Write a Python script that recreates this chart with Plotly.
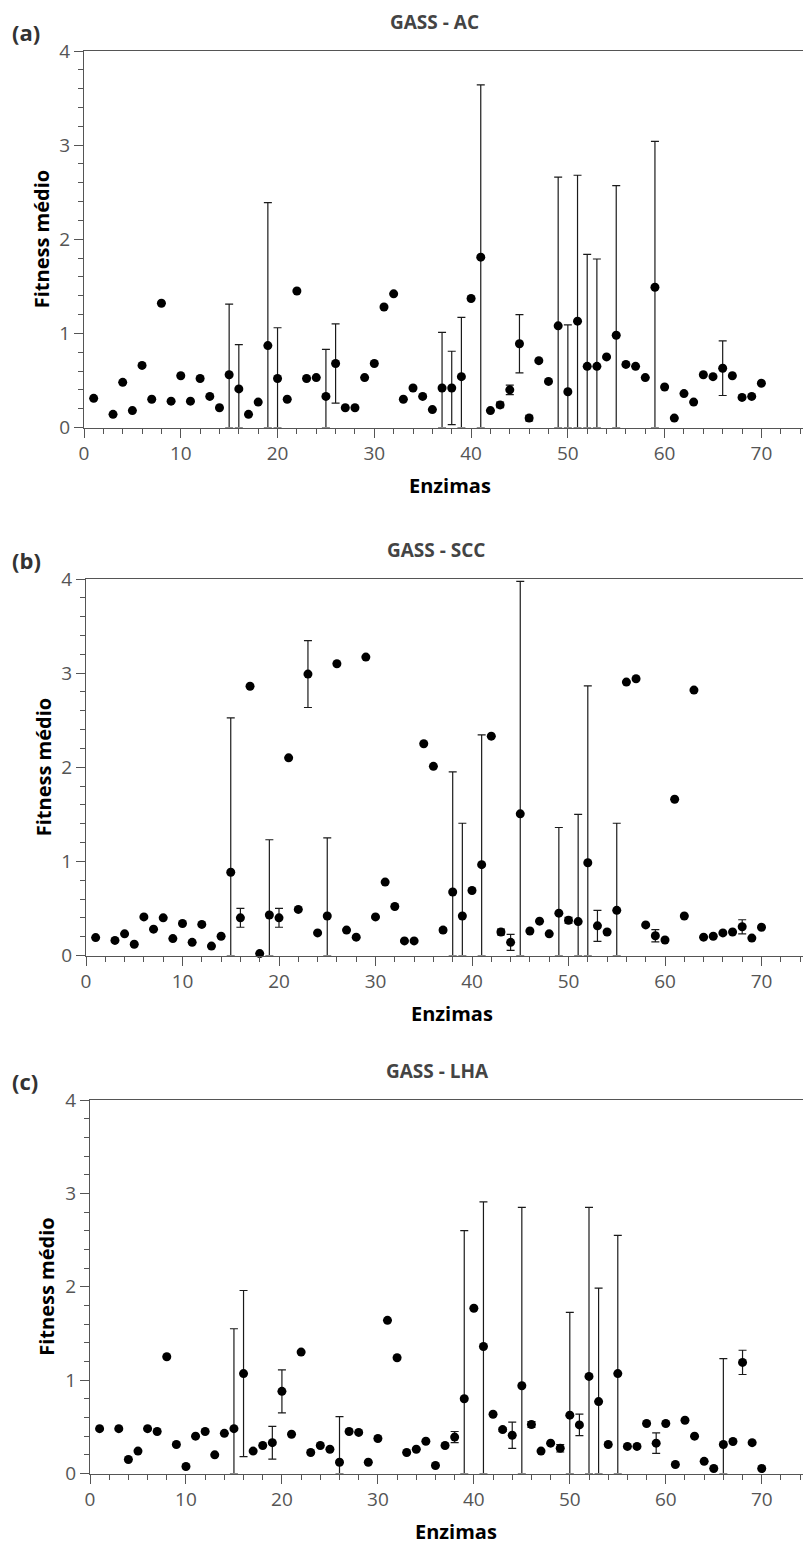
import numpy as np
import plotly.graph_objects as go

# ---------------- data ----------------
enzimas = [1, 3, 4, 5, 6, 7, 8, 9, 10,
           11, 12, 13, 14, 15, 16, 17, 18, 19, 20,
           21, 22, 23, 24, 25, 26, 27, 28, 29, 30,
           31, 32, 33, 34, 35, 36, 37, 38, 39, 40,
           41, 42, 43, 44, 45, 46, 47, 48, 49, 50,
           51, 52, 53, 54, 55, 56, 57, 58, 59, 60,
           61, 62, 63, 64, 65, 66, 67, 68, 69, 70]

ac_mean = [0.31, 0.14, 0.48, 0.18, 0.66, 0.30, 1.32, 0.28, 0.55,
           0.28, 0.52, 0.33, 0.21, 0.56, 0.41, 0.14, 0.27, 0.87, 0.52,
           0.30, 1.45, 0.52, 0.53, 0.33, 0.68, 0.21, 0.21, 0.53, 0.68,
           1.28, 1.42, 0.30, 0.42, 0.33, 0.19, 0.42, 0.42, 0.54, 1.37,
           1.81, 0.18, 0.24, 0.40, 0.89, 0.10, 0.71, 0.49, 1.08, 0.38,
           1.13, 0.65, 0.65, 0.75, 0.98, 0.67, 0.65, 0.53, 1.49, 0.43,
           0.10, 0.36, 0.27, 0.56, 0.54, 0.63, 0.55, 0.32, 0.33, 0.47]
ac_err = [0, 0, 0, 0, 0, 0, 0, 0, 0,
          0, 0, 0, 0, 0.75, 0.47, 0, 0, 1.52, 0.54,
          0, 0, 0, 0, 0.50, 0.42, 0, 0, 0, 0,
          0, 0, 0, 0, 0, 0, 0.59, 0.39, 0.63, 0,
          1.83, 0, 0.03, 0.05, 0.31, 0.03, 0, 0, 1.58, 0.71,
          1.55, 1.19, 1.14, 0, 1.59, 0, 0, 0, 1.55, 0,
          0, 0, 0, 0, 0, 0.29, 0, 0, 0, 0]

scc_mean = [0.19, 0.16, 0.23, 0.12, 0.41, 0.28, 0.40, 0.18, 0.34,
            0.14, 0.33, 0.10, 0.205, 0.885, 0.40, 2.86, 0.02, 0.43, 0.40,
            2.10, 0.49, 2.99, 0.24, 0.42, 3.10, 0.27, 0.195, 3.17, 0.41,
            0.78, 0.52, 0.155, 0.155, 2.25, 2.01, 0.27, 0.675, 0.42, 0.69,
            0.965, 2.33, 0.25, 0.14, 1.505, 0.26, 0.365, 0.23, 0.45, 0.375,
            0.36, 0.985, 0.315, 0.25, 0.48, 2.905, 2.94, 0.325, 0.21, 0.165,
            1.66, 0.42, 2.82, 0.195, 0.205, 0.24, 0.25, 0.305, 0.185, 0.30]
scc_err = [0, 0, 0, 0, 0, 0, 0, 0, 0,
           0, 0, 0, 0, 1.64, 0.10, 0, 0, 0.80, 0.10,
           0, 0, 0.355, 0, 0.83, 0, 0, 0, 0, 0,
           0, 0, 0, 0, 0, 0, 0.02, 1.275, 0.985, 0,
           1.38, 0, 0.03, 0.085, 2.47, 0, 0, 0, 0.91, 0.03,
           1.14, 1.88, 0.165, 0, 0.925, 0, 0, 0, 0.065, 0,
           0, 0, 0, 0, 0, 0, 0, 0.075, 0, 0]

lha_mean = [0.48, 0.48, 0.15, 0.24, 0.48, 0.45, 1.25, 0.31, 0.075,
            0.40, 0.45, 0.20, 0.43, 0.48, 1.07, 0.24, 0.30, 0.33, 0.88,
            0.42, 1.30, 0.225, 0.30, 0.26, 0.12, 0.45, 0.44, 0.12, 0.375,
            1.64, 1.24, 0.225, 0.26, 0.345, 0.086, 0.30, 0.39, 0.80, 1.77,
            1.36, 0.635, 0.47, 0.41, 0.94, 0.525, 0.24, 0.325, 0.27, 0.625,
            0.52, 1.04, 0.77, 0.31, 1.07, 0.29, 0.29, 0.535, 0.325, 0.535,
            0.096, 0.57, 0.40, 0.13, 0.053, 0.31, 0.343, 1.19, 0.33, 0.053]
lha_err = [0, 0, 0, 0, 0, 0, 0, 0, 0,
           0, 0, 0, 0, 1.07, 0.89, 0, 0, 0.175, 0.23,
           0, 0, 0, 0, 0, 0.49, 0, 0, 0, 0,
           0, 0, 0, 0, 0, 0, 0, 0.06, 1.80, 0,
           1.55, 0, 0.02, 0.14, 1.91, 0.03, 0, 0, 0.04, 1.10,
           0.115, 1.81, 1.215, 0, 1.48, 0, 0, 0, 0.11, 0,
           0, 0, 0, 0, 0, 0.92, 0, 0.13, 0, 0]

panel_titles = ["GASS - AC", "GASS - SCC", "GASS - LHA"]
panel_letters = ["(a)", "(b)", "(c)"]
y_title = "Fitness médio"
x_title = "Enzimas"
x_ticks = [0, 10, 20, 30, 40, 50, 60, 70]
y_ticks = [0, 1, 2, 3, 4]

# ---------------- layout geometry (pixels) ----------------
W, H = 803, 1544
FONT = "Open Sans, Noto Sans, sans-serif"
AXC = "#555555"

# (left px of axis, top px, bottom px)
geo = [(84, 51, 427.5), (86, 579, 955.5), (90, 1100, 1473.5)]

def px_x(p):
    return p / W

def px_y(p):
    return 1 - p / H

fig = go.Figure()
series = [(ac_mean, ac_err), (scc_mean, scc_err), (lha_mean, lha_err)]

for i, ((m, e), (lx, top, bot)) in enumerate(zip(series, geo)):
    k = "" if i == 0 else str(i + 1)
    m_arr = np.array(m)
    e_arr = np.array(e)
    fig.add_trace(go.Scatter(
        x=enzimas, y=m, mode="markers",
        marker=dict(color="black", size=9),
        error_y=dict(type="data", symmetric=False, array=e,
                     arrayminus=list(np.minimum(e_arr, m_arr)),
                     color="#1a1a1a", thickness=1.2, width=4),
        cliponaxis=False, showlegend=False,
        xaxis="x" + k, yaxis="y" + k,
    ))
    xa = dict(domain=[px_x(lx), 1], range=[0, 74.3], anchor="y" + k,
              showline=True, linecolor=AXC, linewidth=1.2, mirror=True,
              ticks="outside", ticklen=9, tickwidth=1, tickcolor=AXC,
              tickvals=x_ticks, tickfont=dict(family=FONT, size=19, color="#555555"),
              showgrid=False, zeroline=False, automargin=False,
              minor=dict(dtick=2, tick0=0, ticks="outside", ticklen=5,
                         tickwidth=1, tickcolor=AXC, showgrid=False))
    ya = dict(domain=[px_y(bot), px_y(top)], range=[0, 4], anchor="x" + k,
              showline=True, linecolor=AXC, linewidth=1.2,
              ticks="outside", ticklen=9, tickwidth=1, tickcolor=AXC,
              tickvals=y_ticks, tickfont=dict(family=FONT, size=19, color="#555555"),
              showgrid=False, zeroline=False, automargin=False,
              minor=dict(dtick=0.2, tick0=0, ticks="outside", ticklen=5,
                         tickwidth=1, tickcolor=AXC, showgrid=False))
    fig.layout["xaxis" + k] = xa
    fig.layout["yaxis" + k] = ya

    # panel title
    fig.add_annotation(text="<b>%s</b>" % panel_titles[i], xref="paper", yref="paper",
                       x=px_x(434 + 2 * i), y=px_y(top - 29), showarrow=False,
                       xanchor="center", yanchor="middle",
                       font=dict(family=FONT, size=19, color="#444444"))
    # panel letter
    fig.add_annotation(text="<b>%s</b>" % panel_letters[i], xref="paper", yref="paper",
                       x=px_x(10), y=px_y(top - 19), showarrow=False,
                       xanchor="left", yanchor="middle",
                       font=dict(family=FONT, size=22, color="#333333"))
    # y title
    fig.add_annotation(text="<b>%s</b>" % y_title, xref="paper", yref="paper",
                       x=px_x(lx - 43), y=px_y((top + bot) / 2), showarrow=False,
                       textangle=-90, xanchor="center", yanchor="middle",
                       font=dict(family=FONT, size=20, color="black"))
    # x title
    fig.add_annotation(text="<b>%s</b>" % x_title, xref="paper", yref="paper",
                       x=px_x(lx + 366), y=px_y(bot + 58), showarrow=False,
                       xanchor="center", yanchor="middle",
                       font=dict(family=FONT, size=20, color="black"))

fig.update_layout(width=W, height=H, margin=dict(l=0, r=0, t=0, b=0),
                  paper_bgcolor="white", plot_bgcolor="white",
                  font=dict(family=FONT))

fig.write_html("out.html")
